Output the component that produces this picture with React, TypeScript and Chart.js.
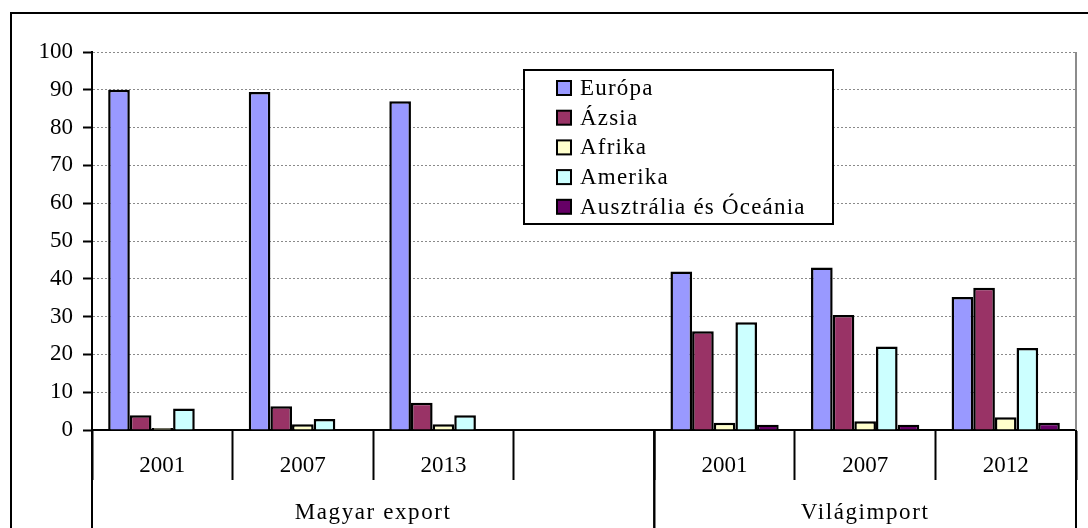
import { useEffect, useRef } from 'react';
import { Chart, registerables } from 'chart.js';

Chart.register(...registerables);

// Categories on the x axis (the empty slot separates the two groups)
const categories = ['2001', '2007', '2013', '', '2001', '2007', '2012'];
const groupLabels = ['Magyar export', 'Világimport'];
const groupSizes = [4, 3];

// Shares by region, %
const seriesNames = ['Európa', 'Ázsia', 'Afrika', 'Amerika', 'Ausztrália és Óceánia'];
const seriesColors = ['#9999FF', '#993366', '#FFFFCC', '#CCFFFF', '#660066'];
const europa = [90.0, 89.4, 87.0, null, 41.9, 43.0, 35.2];
const azsia = [3.9, 6.3, 7.2, null, 26.1, 30.4, 37.6];
const afrika = [0.5, 1.5, 1.5, null, 1.9, 2.3, 3.4];
const amerika = [5.7, 2.9, 3.9, null, 28.5, 22.1, 21.7];
const ausztralia = [0, 0, 0, null, 1.4, 1.4, 1.9];
const seriesValues = [europa, azsia, afrika, amerika, ausztralia];

const yMin = 0;
const yMax = 100;
const yStep = 10;

const FONT = '"Liberation Serif", "Times New Roman", serif';
const FONT_SIZE = 23;

// Outer frame, right plot edge, group dividers and group labels
const framePlugin = {
  id: 'frame',
  afterDraw(chart: any) {
    const { ctx, chartArea, scales } = chart;
    const x = scales.x;
    ctx.save();
    ctx.strokeStyle = '#000';
    ctx.lineWidth = 2;
    ctx.beginPath();
    ctx.moveTo(11, chart.height + 2);
    ctx.lineTo(11, 13);
    ctx.lineTo(chart.width + 2, 13);
    ctx.stroke();

    ctx.strokeStyle = '#8c8c8c';
    ctx.lineWidth = 2;
    ctx.beginPath();
    ctx.moveTo(chartArea.right, chartArea.top);
    ctx.lineTo(chartArea.right, chartArea.bottom);
    ctx.stroke();

    const half = (x.getPixelForValue(1) - x.getPixelForValue(0)) / 2;
    let start = 0;
    ctx.fillStyle = '#000';
    ctx.font = `${FONT_SIZE}px ${FONT}`;
    (ctx as any).letterSpacing = '1.6px';
    ctx.textAlign = 'center';
    ctx.textBaseline = 'middle';
    groupSizes.forEach((n, i) => {
      const left = x.getPixelForValue(start) - half;
      const right = x.getPixelForValue(start + n - 1) + half;
      ctx.strokeStyle = '#000';
      ctx.lineWidth = 2;
      ctx.beginPath();
      ctx.moveTo(left, chartArea.bottom);
      ctx.lineTo(left, chart.height);
      ctx.moveTo(right, chartArea.bottom);
      ctx.lineTo(right, chart.height);
      ctx.stroke();
      ctx.fillText(groupLabels[i], (left + right) / 2, 513);
      start += n;
    });
    ctx.restore();
  },
};

// Boxed legend placed inside the plot area
const boxLegendPlugin = {
  id: 'boxLegend',
  afterDraw(chart: any) {
    const { ctx } = chart;
    const bx = 524;
    const by = 70;
    const bw = 309;
    const bh = 154;
    ctx.save();
    ctx.fillStyle = '#fff';
    ctx.fillRect(bx, by, bw, bh);
    ctx.strokeStyle = '#000';
    ctx.lineWidth = 2;
    ctx.strokeRect(bx, by, bw, bh);
    ctx.font = `${FONT_SIZE}px ${FONT}`;
    (ctx as any).letterSpacing = '1.2px';
    ctx.textAlign = 'left';
    ctx.textBaseline = 'middle';
    chart.data.datasets.forEach((ds: any, i: number) => {
      const cy = by + 18 + i * 29.7;
      ctx.fillStyle = ds.backgroundColor;
      ctx.fillRect(557, cy - 7, 14, 14);
      ctx.lineWidth = 2;
      ctx.strokeStyle = '#000';
      ctx.strokeRect(557, cy - 7, 14, 14);
      ctx.fillStyle = '#000';
      ctx.fillText(ds.label, 580, cy + 1);
    });
    ctx.restore();
  },
};

export default function App() {
  const canvasRef = useRef<HTMLCanvasElement | null>(null);

  useEffect(() => {
    if (!canvasRef.current) return;
    const chart = new Chart(canvasRef.current, {
      type: 'bar',
      data: {
        labels: categories,
        datasets: seriesNames.map((name, i) => ({
          label: name,
          data: seriesValues[i],
          backgroundColor: seriesColors[i],
          borderColor: '#000',
          borderWidth: 2.5,
          categoryPercentage: 0.77,
          barPercentage: 1,
        })),
      },
      options: {
        responsive: false,
        animation: false,
        devicePixelRatio: 1,
        layout: { padding: { left: 12, top: 52, right: 12, bottom: 0 } },
        plugins: {
          legend: { display: false },
          tooltip: { enabled: false },
        },
        scales: {
          x: {
            type: 'category',
            afterFit: (scale: any) => {
              scale.height = 98;
            },
            grid: {
              display: true,
              offset: true,
              drawOnChartArea: false,
              drawTicks: true,
              tickLength: 50,
              tickColor: '#000',
              tickWidth: 2,
            },
            border: { display: true, color: '#000', width: 2 },
            ticks: {
              color: '#000',
              font: { family: FONT, size: FONT_SIZE },
              padding: -28,
              maxRotation: 0,
              autoSkip: false,
            },
          },
          y: {
            min: yMin,
            max: yMax,
            afterFit: (scale: any) => {
              scale.width = 80;
            },
            grid: {
              color: '#8a8a8a',
              lineWidth: 1,
              drawTicks: true,
              tickLength: 9,
              tickColor: '#000',
              tickWidth: 2,
              tickBorderDash: [],
            },
            border: { display: true, color: '#000', width: 2, dash: [2, 2] },
            ticks: {
              stepSize: yStep,
              color: '#000',
              font: { family: FONT, size: FONT_SIZE },
              padding: 10,
            },
          },
        },
      },
      plugins: [framePlugin, boxLegendPlugin],
    });
    return () => chart.destroy();
  }, []);

  return (
    <div style={{ position: 'absolute', left: 0, top: 0, width: 1088, height: 528, background: '#fff' }}>
      <canvas ref={canvasRef} width={1088} height={528} />
    </div>
  );
}
